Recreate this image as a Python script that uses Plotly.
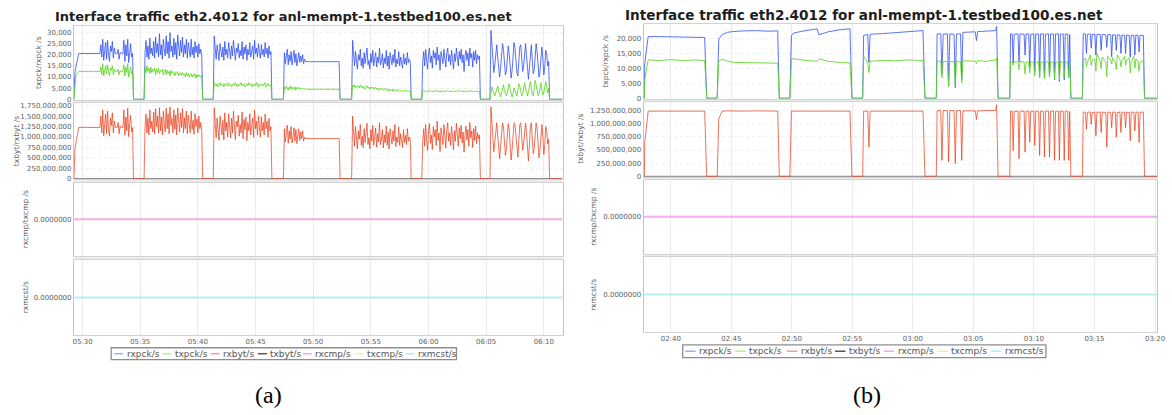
import pandas as pd
import plotly.graph_objects as go

W, H = 1172, 415
DAY = "2014-06-10 "

# ---------------- panel (a): 5-second samples starting 05:29:15 ----------------
a_start = "05:29:15"
a_step = "5s"

# received packets/s, thousands
a_rxpck_k = [
    # run 1
    0, 12.0, 14.5, 16.5, 18.5,
    20.6, 20.6, 20.6, 20.5, 20.6, 20.6, 20.6, 20.6, 20.5, 20.6, 20.6, 20.6,
    20.6, 20.6, 20.5, 20.6, 20.6, 20.6, 20.6, 20.5, 20.6, 20.6, 20.6,
    24.5, 19.0, 27.0, 17.5, 22.0, 25.5, 18.0, 26.5, 20.0, 17.0, 24.0, 21.5, 26.0, 18.5, 23.0, 20.6, 20.6,
    20.6, 22.5, 18.0, 21.0, 20.6, 20.6, 20.6, 26.5, 17.0, 24.5, 19.5, 27.0, 16.5, 22.0, 25.0, 19.0, 20.6,
    0, 0, 0, 0, 0, 0, 0, 0, 0, 0, 0, 0,
    # run 2
    21.0, 26.5, 19.0, 24.0, 18.0, 27.5, 20.5, 23.0, 19.5, 26.0,
    18.5, 28.0, 21.0, 25.0, 19.0, 29.5, 20.0, 24.5, 18.0, 27.0,
    22.5, 19.5, 28.5, 20.5, 26.0, 18.5, 30.0, 21.5, 24.0, 19.0,
    27.5, 20.0, 25.5, 18.0, 29.0, 22.0, 19.5, 26.5, 21.0, 28.0,
    19.0, 24.5, 20.5, 27.0, 18.5, 25.5, 22.0, 19.0, 27.0, 20.0,
    23.5, 18.5, 26.0, 21.0, 24.0, 19.0, 25.0, 20.5, 22.5, 19.5,
    0, 0, 0, 0, 0, 0, 0, 0, 0, 0, 0, 0,
    # run 3
    28.5, 22.0, 18.0, 24.5, 19.5, 17.5, 25.0, 21.0, 19.0, 23.5,
    17.5, 26.0, 20.0, 22.5, 18.5, 25.5, 21.5, 18.0, 24.0, 19.5,
    26.5, 20.5, 17.5, 23.0, 21.0, 25.0, 18.5, 22.0, 19.5, 26.0,
    18.0, 23.5, 20.5, 24.5, 17.5, 22.5, 20.0, 25.5, 19.0, 21.5,
    24.0, 18.0, 26.5, 20.5, 23.0, 19.0, 25.0, 21.0, 18.5, 24.5,
    20.0, 22.5, 19.0, 25.5, 20.5, 23.0, 18.5, 24.0, 20.0, 21.5,
    0, 0, 0, 0, 0, 0, 0, 0, 0, 0, 0, 0, 0,
    # run 4
    21.0, 16.0, 19.5, 22.5, 15.5, 20.0, 17.0, 21.5, 15.5, 19.0, 22.0, 16.5,
    20.5, 15.0, 18.5, 21.0, 16.5, 19.5, 17.0, 20.0, 16.0, 18.0, 17.0,
    16.9, 16.9, 16.9, 16.9, 16.9, 16.9, 16.9, 16.9, 16.9, 16.9, 16.9, 16.9,
    16.9, 16.9, 16.9, 16.9, 16.9, 16.9, 16.9, 16.9, 16.9, 16.9, 16.9, 16.9,
    16.9, 16.9, 16.9, 16.9, 16.9, 16.9, 16.9, 16.9, 16.9, 16.9, 16.9,
    0, 0, 0, 0, 0, 0, 0, 0, 0, 0, 0, 0, 0,
    # run 5
    26.5, 19.0, 15.0, 21.5, 16.5, 13.5, 20.0, 17.5, 22.5, 15.0,
    18.5, 14.0, 21.0, 16.0, 19.5, 23.0, 15.5, 17.5, 13.5, 20.5,
    16.5, 22.0, 15.0, 18.0, 21.0, 14.5, 19.0, 16.5, 23.0, 15.5,
    17.0, 20.5, 14.0, 18.5, 16.0, 22.0, 15.0, 19.5, 13.5, 21.0,
    17.0, 15.5, 20.0, 16.5, 22.5, 14.5, 18.0, 16.0, 21.5, 15.0,
    19.0, 17.0, 14.0, 20.5, 16.0, 18.5, 15.5, 21.0, 16.5, 18.0,
    17.0,
    0, 0, 0, 0, 0, 0, 0, 0, 0, 0, 0, 0,
    # run 6
    17.0, 21.5, 15.0, 22.5, 18.0, 13.5, 20.5, 23.0, 16.5, 19.5,
    14.0, 22.0, 18.5, 21.0, 15.5, 23.5, 17.5, 20.0, 13.0, 21.5,
    19.0, 16.0, 22.5, 18.0, 14.5, 21.0, 23.0, 17.0, 20.0, 15.5,
    22.0, 18.5, 13.5, 20.5, 17.0, 23.0, 19.0, 15.0, 21.5, 18.0,
    22.5, 16.5, 20.0, 12.5, 19.5, 22.0, 17.5, 21.0, 15.0, 23.0,
    18.5, 20.5, 14.5, 21.5, 17.5, 22.0, 16.0, 20.0, 18.0, 19.5,
    0, 0, 0, 0, 0, 0, 0, 0, 0, 0, 0,
    # run 7
    31.0, 24.0, 17.0, 12.0, 15.5, 22.0, 24.5, 19.0, 13.0, 10.0,
    14.0, 21.0, 25.0, 22.5, 16.0, 11.0, 12.5, 19.5, 24.0, 20.0,
    14.5, 9.5, 13.0, 20.5, 25.5, 23.0, 17.0, 12.0, 10.5, 16.0,
    23.5, 24.5, 18.0, 12.5, 15.0, 21.5, 25.0, 19.5, 13.5, 9.0,
    14.0, 22.0, 24.5, 17.5, 11.5, 13.0, 20.0, 25.0, 21.5, 15.0,
    10.0, 12.5, 19.5, 23.5, 18.0, 11.0, 14.5, 22.0, 20.5, 15.0,
    17.0,
    0, 0, 0, 0, 0, 0, 0, 0, 0, 0, 0, 0, 0, 0,
]

# transmitted packets/s, thousands
a_txpck_k = [
    # run 1
    0, 8.0, 10.5, 11.5, 12.2,
    12.5, 12.6, 12.5, 12.4, 12.5, 12.6, 12.5, 12.5, 12.4, 12.5, 12.6, 12.5,
    12.5, 12.4, 12.5, 12.6, 12.5, 12.5, 12.4, 12.5, 12.6, 12.5, 12.5,
    14.5, 11.0, 16.0, 10.5, 13.0, 15.0, 11.5, 15.5, 12.5, 10.5, 14.0, 13.0, 15.0, 11.0, 13.5, 12.5, 12.5,
    12.5, 13.5, 11.0, 12.8, 12.5, 12.5, 12.5, 15.5, 10.5, 14.5, 12.0, 16.0, 10.0, 13.0, 14.5, 11.5, 12.5,
    0, 0, 0, 0, 0, 0, 0, 0, 0, 0, 0, 0,
    # run 2
    14.5, 12.0, 15.0, 12.5, 14.0, 11.5, 14.5, 12.0, 13.5, 12.5,
    14.0, 11.0, 13.5, 12.0, 14.0, 11.5, 13.0, 12.5, 13.5, 11.0,
    12.5, 13.5, 11.0, 13.0, 11.5, 12.5, 10.5, 13.0, 11.5, 12.0,
    12.5, 10.5, 12.0, 11.5, 12.5, 10.5, 11.5, 12.0, 10.5, 12.0,
    11.0, 11.5, 10.0, 12.0, 10.5, 11.5, 10.0, 11.0, 11.5, 10.0,
    11.0, 10.5, 11.5, 9.5, 11.0, 10.0, 11.0, 10.5, 10.0, 11.0,
    0, 0, 0, 0, 0, 0, 0, 0, 0, 0, 0, 0,
    # run 3
    7.5, 6.5, 6.0, 7.0, 5.5, 6.5, 7.5, 6.0, 6.5, 7.0,
    5.5, 7.0, 6.5, 6.0, 7.5, 6.0, 6.5, 7.0, 5.5, 6.5,
    7.0, 6.0, 7.5, 6.5, 5.5, 7.0, 6.0, 6.5, 7.5, 6.0,
    6.5, 7.0, 5.5, 6.5, 7.0, 6.0, 7.5, 6.5, 6.0, 7.0,
    5.5, 6.5, 7.0, 6.0, 7.5, 6.5, 5.5, 7.0, 6.0, 6.5,
    7.0, 6.0, 6.5, 7.5, 5.5, 6.5, 7.0, 6.0, 6.5, 6.0,
    0, 0, 0, 0, 0, 0, 0, 0, 0, 0, 0, 0, 0,
    # run 4
    5.5, 4.5, 6.0, 5.0, 4.0, 5.5, 4.5, 6.0, 4.5, 5.0, 5.5, 4.0,
    5.5, 4.5, 5.0, 5.5, 4.5, 5.0, 4.5, 5.0, 4.5, 4.8, 4.5,
    4.5, 4.4, 4.5, 4.3, 4.5, 4.4, 4.6, 4.4, 4.5, 4.3, 4.4, 4.5,
    4.4, 4.3, 4.5, 4.4, 4.4, 4.5, 4.3, 4.4, 4.6, 4.4, 4.5, 4.4,
    4.3, 4.5, 4.4, 4.4, 4.5, 4.3, 4.4, 4.5, 4.4, 4.4, 4.5,
    0, 0, 0, 0, 0, 0, 0, 0, 0, 0, 0, 0, 0,
    # run 5
    6.5, 5.5, 6.5, 5.0, 6.0, 5.5, 6.0, 5.0, 6.5, 5.5,
    5.0, 6.0, 5.5, 4.5, 5.5, 6.0, 5.0, 5.5, 4.5, 5.5,
    5.0, 5.5, 4.5, 5.0, 5.5, 4.5, 5.0, 4.0, 5.0, 4.5,
    4.5, 5.0, 4.0, 4.5, 5.0, 4.0, 4.5, 4.5, 3.5, 4.5,
    4.0, 4.5, 3.5, 4.5, 4.0, 3.5, 4.5, 4.0, 3.5, 4.0,
    4.0, 3.5, 4.0, 3.5, 4.0, 3.5, 4.0, 3.5, 3.8, 3.5,
    3.5,
    0, 0, 0, 0, 0, 0, 0, 0, 0, 0, 0, 0,
    # run 6
    3.5, 4.0, 3.4, 3.8, 3.6, 3.3, 3.9, 4.0, 3.5, 3.7,
    3.3, 3.8, 3.6, 3.9, 3.4, 4.0, 3.5, 3.7, 3.2, 3.8,
    3.6, 3.4, 3.9, 3.5, 3.3, 3.7, 4.0, 3.5, 3.6, 3.4,
    3.8, 3.6, 3.3, 3.7, 3.5, 3.9, 3.6, 3.4, 3.8, 3.5,
    3.9, 3.4, 3.7, 3.2, 3.6, 3.8, 3.5, 3.7, 3.4, 3.9,
    3.6, 3.7, 3.3, 3.8, 3.5, 3.7, 3.4, 3.6, 3.5, 3.6,
    0, 0, 0, 0, 0, 0, 0, 0, 0, 0, 0,
    # run 7
    3.0, 5.5, 4.0, 2.0, 1.5, 3.0, 5.0, 6.0, 3.5, 1.5,
    1.0, 2.5, 5.5, 6.5, 4.0, 2.0, 1.5, 3.0, 6.0, 7.0,
    4.5, 2.0, 1.0, 2.5, 5.0, 4.0, 2.0, 1.5, 4.0, 7.0,
    6.0, 3.0, 1.5, 2.0, 5.5, 7.5, 5.0, 2.5, 1.5, 3.5,
    7.0, 8.0, 5.0, 2.0, 1.5, 4.5, 8.5, 6.5, 3.0, 1.5,
    2.5, 6.0, 7.5, 4.0, 2.0, 3.0, 6.5, 8.0, 5.5, 3.0,
    5.0,
    0, 0, 0, 0, 0, 0, 0, 0, 0, 0, 0, 0, 0, 0,
]

# received bytes/s, millions
a_rxbyt_m = [
    # run 1
    0, 700, 850, 1000, 1120,
    1230, 1230, 1232, 1230, 1228, 1230, 1230, 1231, 1230, 1229, 1230, 1230,
    1230, 1231, 1230, 1229, 1230, 1230, 1232, 1230, 1229, 1230, 1230,
    1500, 1100, 1650, 1030, 1300, 1550, 1080, 1620, 1200, 1020, 1450, 1280, 1580, 1100, 1380, 1230, 1230,
    1230, 1350, 1080, 1260, 1230, 1230, 1230, 1650, 1040, 1480, 1150, 1690, 1010, 1320, 1520, 1120, 1230,
    0, 0, 0, 0, 0, 0, 0, 0, 0, 0, 0, 0,
    # run 2
    1250, 1550, 1100, 1450, 1050, 1650, 1200, 1380, 1120, 1600,
    1080, 1680, 1250, 1500, 1100, 1700, 1150, 1480, 1050, 1620,
    1320, 1120, 1690, 1200, 1560, 1080, 1720, 1280, 1450, 1100,
    1650, 1180, 1530, 1050, 1700, 1300, 1120, 1580, 1230, 1680,
    1100, 1460, 1200, 1620, 1080, 1520, 1300, 1100, 1620, 1180,
    1400, 1060, 1560, 1250, 1430, 1100, 1500, 1200, 1350, 1150,
    0, 0, 0, 0, 0, 0, 0, 0, 0, 0, 0, 0,
    # run 3
    1700, 1300, 980, 1450, 1100, 920, 1500, 1250, 1050, 1400,
    930, 1580, 1150, 1350, 1000, 1550, 1250, 980, 1450, 1100,
    1620, 1200, 940, 1380, 1250, 1520, 1020, 1300, 1100, 1600,
    960, 1420, 1180, 1480, 910, 1350, 1150, 1560, 1050, 1280,
    1450, 990, 1640, 1200, 1380, 1050, 1500, 1250, 1000, 1480,
    1150, 1350, 1050, 1550, 1200, 1380, 1000, 1450, 1150, 1250,
    0, 0, 0, 0, 0, 0, 0, 0, 0, 0, 0, 0, 0,
    # run 4
    1200, 880, 1100, 1280, 850, 1150, 950, 1250, 860, 1080, 1220, 900,
    1180, 840, 1050, 1200, 920, 1120, 960, 1150, 900, 1000, 962,
    962, 962, 962, 962, 962, 962, 962, 962, 962, 962, 962, 962,
    962, 962, 962, 962, 962, 962, 962, 962, 962, 962, 962, 962,
    962, 962, 962, 962, 962, 962, 962, 962, 962, 962, 962,
    0, 0, 0, 0, 0, 0, 0, 0, 0, 0, 0, 0, 0,
    # run 5
    1500, 1050, 780, 1250, 880, 720, 1150, 950, 1300, 800,
    1020, 750, 1200, 870, 1100, 1330, 820, 980, 720, 1180,
    900, 1280, 800, 1000, 1220, 760, 1080, 880, 1340, 820,
    940, 1180, 740, 1050, 860, 1260, 800, 1120, 710, 1200,
    940, 830, 1150, 900, 1300, 770, 1000, 870, 1240, 800,
    1080, 930, 750, 1180, 870, 1040, 820, 1200, 900, 1000,
    950,
    0, 0, 0, 0, 0, 0, 0, 0, 0, 0, 0, 0,
    # run 6
    900, 1200, 780, 1300, 980, 680, 1150, 1320, 850, 1050,
    700, 1250, 1000, 1180, 800, 1380, 920, 1100, 650, 1220,
    1020, 820, 1300, 960, 740, 1180, 1340, 900, 1100, 800,
    1250, 1000, 690, 1150, 900, 1330, 1020, 780, 1220, 960,
    1280, 860, 1120, 640, 1050, 1260, 930, 1180, 780, 1350,
    980, 1150, 750, 1200, 920, 1260, 840, 1100, 960, 1050,
    0, 0, 0, 0, 0, 0, 0, 0, 0, 0, 0,
    # run 7
    1720, 1350, 950, 650, 880, 1250, 1340, 1050, 720, 480,
    780, 1200, 1340, 1250, 900, 560, 700, 1100, 1320, 1150,
    820, 450, 700, 1150, 1340, 1300, 950, 620, 520, 900,
    1300, 1340, 1000, 680, 850, 1200, 1330, 1100, 750, 430,
    780, 1250, 1340, 980, 600, 720, 1120, 1340, 1200, 850,
    500, 680, 1100, 1300, 1000, 580, 820, 1250, 1150, 830,
    950,
    0, 0, 0, 0, 0, 0, 0, 0, 0, 0, 0, 0, 0, 0,
]

# ---------------- panel (b): samples at the listed times ----------------
b_time = [
    "02:37:45", "02:37:49", "02:37:51", "02:38:08", "02:39:00", "02:40:00", "02:41:00", "02:42:00", "02:42:48", "02:42:58",
    "02:43:50", "02:43:58", "02:44:15", "02:44:40", "02:45:10", "02:46:00", "02:47:00", "02:48:00", "02:48:50", "02:48:58",
    "02:49:50", "02:49:58", "02:50:10", "02:51:00", "02:52:05", "02:52:15", "02:53:00", "02:54:00", "02:54:48", "02:54:58",
    "02:55:51", "02:55:56", "02:56:16", "02:56:22", "02:56:28", "02:57:30", "02:58:30", "02:59:30", "03:00:50", "03:01:00",
    "03:01:56", "03:02:00", "03:02:18", "03:02:24", "03:02:30", "03:02:51", "03:02:57", "03:03:03", "03:03:24", "03:03:30",
    "03:03:36", "03:03:56", "03:04:02", "03:04:08", "03:05:09", "03:05:15", "03:05:21", "03:06:00", "03:06:50", "03:06:55",
    "03:07:02",
    "03:08:00", "03:08:04",
    "03:08:12", "03:08:17", "03:08:22", "03:08:41", "03:08:46", "03:08:51", "03:09:11", "03:09:16", "03:09:21",
    "03:09:34", "03:09:39", "03:09:44", "03:09:59", "03:10:04", "03:10:09", "03:10:23", "03:10:28", "03:10:33",
    "03:10:47", "03:10:52", "03:10:57", "03:11:12", "03:11:17", "03:11:22", "03:11:37", "03:11:42", "03:11:47",
    "03:12:01", "03:12:06", "03:12:11", "03:12:25", "03:12:30", "03:12:35", "03:12:47", "03:12:52", "03:12:57",
    "03:13:03",
    "03:14:00", "03:14:04",
    "03:14:15", "03:14:20", "03:14:25", "03:14:39", "03:14:44", "03:14:49", "03:15:02", "03:15:07", "03:15:12",
    "03:15:28", "03:15:33", "03:15:38", "03:15:56", "03:16:01", "03:16:06", "03:16:20", "03:16:25", "03:16:30",
    "03:16:43", "03:16:48", "03:16:53", "03:17:06", "03:17:11", "03:17:16", "03:17:29", "03:17:34", "03:17:39",
    "03:17:52", "03:17:57", "03:18:02", "03:18:15", "03:18:20", "03:18:25", "03:18:36", "03:18:41", "03:18:46",
    "03:19:02", "03:19:08", "03:20:10",
]

b_rxpck_k = [
    0, 0, 11.5, 20.6, 20.6, 20.5, 20.5, 20.4, 20.3, 0,
    0, 19.8, 21.3, 22.0, 22.3, 22.5, 22.6, 22.4, 22.5, 0,
    0, 21.0, 21.8, 22.5, 23.2, 21.2, 22.2, 22.9, 23.2, 0,
    0, 21.0, 21.3, 12.0, 21.4, 21.6, 21.9, 22.3, 22.6, 0,
    0, 21.5, 21.5, 7.9, 21.4, 21.5, 4.0, 21.5, 21.4, 3.5,
    21.5, 21.5, 6.2, 22.0, 22.2, 19.3, 22.3, 22.4, 22.6, 24.0,
    0,
    0, 21.5,
    21.5, 11.8, 21.4, 21.5, 12.1, 21.5, 21.4, 14.4, 21.5,
    21.5, 10.5, 21.4, 21.5, 8.9, 21.5, 21.4, 7.2, 21.5,
    21.5, 6.9, 21.4, 21.5, 7.2, 21.5, 21.4, 6.2, 21.5,
    21.5, 5.6, 21.4, 21.5, 6.2, 21.5, 21.4, 6.9, 21.3,
    0,
    0, 21.5,
    21.5, 15.0, 21.4, 21.5, 16.7, 21.4, 21.3, 14.4, 21.4,
    21.3, 16.0, 21.3, 21.2, 17.0, 21.3, 21.2, 13.8, 21.2,
    21.1, 16.0, 21.2, 21.1, 15.0, 21.1, 21.0, 15.0, 21.1,
    21.0, 13.8, 21.0, 21.0, 14.4, 21.1, 21.0, 15.5, 21.0,
    21.0, 0, 0,
]

b_txpck_k = [
    0, 0, 6.0, 12.8, 12.6, 12.9, 12.6, 12.8, 12.6, 0,
    0, 12.5, 13.0, 12.4, 12.0, 11.9, 11.7, 11.8, 11.7, 0,
    0, 13.0, 13.2, 12.7, 12.3, 13.2, 12.3, 12.0, 11.8, 0,
    0, 14.0, 12.0, 8.6, 12.3, 12.7, 12.5, 12.8, 12.6, 0,
    0, 12.5, 12.3, 6.8, 12.2, 12.4, 4.0, 12.3, 12.2, 4.0,
    12.4, 12.3, 5.1, 12.5, 12.4, 11.5, 12.6, 12.3, 12.8, 13.5,
    0,
    0, 12.2,
    12.1, 11.0, 12.2, 12.0, 9.5, 12.3, 12.1, 8.0, 12.2,
    12.0, 8.5, 12.2, 12.1, 7.5, 12.0, 12.2, 6.8, 12.1,
    12.0, 6.5, 12.2, 12.1, 7.0, 12.0, 12.2, 6.5, 12.1,
    12.0, 6.2, 12.2, 12.1, 6.8, 12.0, 12.2, 7.0, 12.0,
    0,
    0, 12.5,
    13.5, 10.5, 12.0, 14.5, 11.0, 12.8, 13.0, 9.0, 15.0,
    12.5, 10.0, 13.8, 12.2, 7.2, 14.0, 12.8, 11.5, 13.5,
    12.0, 9.5, 14.5, 13.0, 10.5, 12.5, 14.0, 11.0, 12.8,
    13.5, 8.5, 12.2, 14.0, 10.0, 13.0, 12.5, 9.0, 12.0,
    12.5, 0, 0,
]

b_rxbyt_m = [
    0, 0, 640, 1240, 1240, 1245, 1240, 1240, 1240, 0,
    0, 1100, 1240, 1245, 1240, 1240, 1245, 1240, 1240, 0,
    0, 1240, 1240, 1245, 1240, 1235, 1240, 1240, 1240, 0,
    0, 1240, 1240, 554, 1240, 1240, 1245, 1240, 1240, 0,
    0, 1250, 1250, 304, 1250, 1250, 274, 1250, 1250, 243,
    1250, 1250, 304, 1245, 1245, 1082, 1245, 1250, 1255, 1362,
    0,
    0, 1240,
    1240, 490, 1240, 1235, 336, 1240, 1240, 460, 1240,
    1240, 647, 1235, 1240, 584, 1240, 1240, 397, 1240,
    1235, 367, 1240, 1240, 367, 1240, 1240, 304, 1235,
    1240, 304, 1240, 1240, 304, 1240, 1240, 304, 1235,
    0,
    0, 1220,
    1220, 896, 1220, 1220, 989, 1215, 1220, 771, 1220,
    1220, 834, 1220, 1215, 554, 1220, 1220, 927, 1220,
    1220, 741, 1215, 1220, 834, 1220, 1220, 927, 1220,
    1215, 677, 1220, 1220, 864, 1220, 1220, 647, 1220,
    1220, 0, 0,
]

assert len(a_rxpck_k) == len(a_txpck_k) == len(a_rxbyt_m) == 509
assert len(b_time) == len(b_rxpck_k) == len(b_txpck_k) == len(b_rxbyt_m)

series_names = ["rxpck/s", "txpck/s", "rxbyt/s", "txbyt/s", "rxcmp/s", "txcmp/s", "rxmcst/s"]
series_colors = {
    "rxpck/s": "rgba(45,75,245,0.78)",
    "txpck/s": "rgba(95,215,35,0.85)",
    "rxbyt/s": "rgba(232,55,20,0.7)",
    "txbyt/s": "#606060",
    "rxcmp/s": "#f0b0f2",
    "txcmp/s": "#f2f0a0",
    "rxmcst/s": "#b4f0f2",
}
key_colors = {
    "rxpck/s": "#a3acff",
    "txpck/s": "#b4ee98",
    "rxbyt/s": "#f3a092",
    "txbyt/s": "#555555",
    "rxcmp/s": "#f0a8f0",
    "txcmp/s": "#f2f0a8",
    "rxmcst/s": "#aaf0f0",
}

y_titles = ["txpck/rxpck /s", "txbyt/rxbyt /s", "rxcmp/txcmp /s", "rxmcst/s"]
title_text = "Interface traffic eth2.4012 for anl-mempt-1.testbed100.es.net"

a_time = pd.date_range(DAY + a_start, periods=len(a_rxpck_k), freq=a_step)
b_dt = pd.to_datetime([DAY + t for t in b_time])

panels = [
    dict(time=a_time, rxpck=a_rxpck_k, txpck=a_txpck_k, rxbyt=a_rxbyt_m,
         xrange=[DAY + "05:29:15", DAY + "06:11:38"]),
    dict(time=b_dt, rxpck=b_rxpck_k, txpck=b_txpck_k, rxbyt=b_rxbyt_m,
         xrange=[DAY + "02:37:45", DAY + "03:20:10"]),
]

# ---------------- layout geometry (pixels) ----------------
panel_x = [(73.5, 566.0), (647.5, 1165.0)]
panel_rows = [
    [(25, 100), (103, 180.5), (184, 258), (262, 338)],
    [(23, 99), (102, 178), (181, 256), (259, 335)],
]
y_ranges = [
    [[-250, 33100], [-12e6, 1.82e9]],
    [[-200, 24900], [-10e6, 1.418e9]],
]
y_ticks = [
    [list(range(0, 30001, 5000)), list(range(0, 1750000001, 250000000))],
    [list(range(0, 20001, 5000)), list(range(0, 1250000001, 250000000))],
]
title_pos = [(285, 16, 13), (870, 14, 13.6)]
ytitle_pos = [
    [(38, 62), (15, 142), (25, 221), (25, 300)],
    [(609, 61), (584, 140), (597, 218), (597, 297)],
]
key_box = [(111, 351, 459, 363), (687, 348, 1053, 361)]
key_x = [[114, 162.5, 211.5, 259, 304, 356, 407.5],
         [689.5, 740, 792, 840.5, 889.5, 943.5, 997.5]]
key_len = [9, 10.5]
caption_pos = [(270, 399, "(a)"), (873, 399, "(b)")]


def fx(v):
    return v / W


def fy(v):
    return 1 - v / H


tick_font = dict(family="DejaVu Sans", size=7, color="#606060")
fig = go.Figure()
shapes, annotations = [], []

for p, pdata in enumerate(panels):
    t = pdata["time"]
    zeros = [0.0] * len(t)
    for r in range(4):
        n = p * 4 + r + 1
        ax = "" if n == 1 else str(n)
        xr, yr = "x" + ax, "y" + ax
        if r == 0:
            fig.add_trace(go.Scatter(x=t, y=[v * 1000 for v in pdata["rxpck"]], xaxis=xr, yaxis=yr,
                                     mode="lines", line=dict(color=series_colors["rxpck/s"], width=1)))
            fig.add_trace(go.Scatter(x=t, y=[v * 1000 for v in pdata["txpck"]], xaxis=xr, yaxis=yr,
                                     mode="lines", line=dict(color=series_colors["txpck/s"], width=1)))
        elif r == 1:
            fig.add_trace(go.Scatter(x=t, y=zeros, xaxis=xr, yaxis=yr, mode="lines",
                                     line=dict(color=series_colors["txbyt/s"], width=1)))
            fig.add_trace(go.Scatter(x=t, y=[v * 1e6 for v in pdata["rxbyt"]], xaxis=xr, yaxis=yr,
                                     mode="lines", line=dict(color=series_colors["rxbyt/s"], width=1)))
        elif r == 2:
            fig.add_trace(go.Scatter(x=t, y=zeros, xaxis=xr, yaxis=yr, mode="lines",
                                     line=dict(color=series_colors["txcmp/s"], width=2)))
            fig.add_trace(go.Scatter(x=t, y=zeros, xaxis=xr, yaxis=yr, mode="lines",
                                     line=dict(color=series_colors["rxcmp/s"], width=2)))
        else:
            fig.add_trace(go.Scatter(x=t, y=zeros, xaxis=xr, yaxis=yr, mode="lines",
                                     line=dict(color=series_colors["rxmcst/s"], width=2)))

        top, bot = panel_rows[p][r]
        x0, x1 = panel_x[p]
        xaxis = dict(
            domain=[fx(x0), fx(x1)], anchor=yr, type="date", range=pdata["xrange"],
            dtick=300000, tick0=DAY + "00:00:00", tickformat="%H:%M",
            showticklabels=(r == 3), ticks="", tickfont=tick_font, ticklabeloverflow="allow",
            showgrid=True, gridcolor="#ebebeb", gridwidth=1,
            showline=True, mirror=True, linecolor="#d2d2d2", linewidth=1, zeroline=False,
        )
        yaxis = dict(
            domain=[fy(bot), fy(top)], anchor=xr, ticks="", tickfont=tick_font,
            showline=True, mirror=True, linecolor="#c4c4c4", linewidth=1, zeroline=False,
        )
        if r < 2:
            yaxis.update(range=y_ranges[p][r], tickmode="array", tickvals=y_ticks[p][r],
                         tickformat=",d", showgrid=True, gridcolor="#efefef", griddash="dot")
        else:
            yaxis.update(range=[-1, 1], tickmode="array", tickvals=[0], ticktext=["0.0000000"],
                         showgrid=False)
        fig.layout["xaxis" + ax] = xaxis
        fig.layout["yaxis" + ax] = yaxis

        tx, ty = ytitle_pos[p][r]
        annotations.append(dict(x=fx(tx), y=fy(ty), xref="paper", yref="paper", text=y_titles[r],
                                textangle=-90, showarrow=False, xanchor="center", yanchor="middle",
                                font=dict(family="DejaVu Sans", size=7.5, color="#606060")))

    # light bands between stacked plots
    rows = panel_rows[p]
    for r in range(3):
        shapes.append(dict(type="rect", xref="paper", yref="paper", layer="below",
                           x0=fx(panel_x[p][0]), x1=fx(panel_x[p][1]),
                           y0=fy(rows[r + 1][0]), y1=fy(rows[r][1]),
                           fillcolor="#ececec", line=dict(width=0)))

    # chart title
    cx, cy, cs = title_pos[p]
    annotations.append(dict(x=fx(cx), y=fy(cy), xref="paper", yref="paper", text="<b>" + title_text + "</b>",
                            showarrow=False, xanchor="center", yanchor="middle",
                            font=dict(family="DejaVu Sans", size=cs, color="#1e1e1e")))

    # series key under the plots
    bx0, by0, bx1, by1 = key_box[p]
    shapes.append(dict(type="rect", xref="paper", yref="paper", x0=fx(bx0), x1=fx(bx1), y0=fy(by1), y1=fy(by0),
                       line=dict(color="#8e8e8e", width=1.3), fillcolor="white"))
    ky = (by0 + by1) / 2
    for i, name in enumerate(series_names):
        sx = key_x[p][i]
        shapes.append(dict(type="line", xref="paper", yref="paper", x0=fx(sx), x1=fx(sx + key_len[p]),
                           y0=fy(ky), y1=fy(ky), line=dict(color=key_colors[name], width=1.5)))
        annotations.append(dict(x=fx(sx + key_len[p] + 1.5), y=fy(ky), xref="paper", yref="paper", text=name,
                                showarrow=False, xanchor="left", yanchor="middle",
                                font=dict(family="DejaVu Sans", size=9, color="#555555")))

    # sub-figure caption
    lx, ly, lt = caption_pos[p]
    annotations.append(dict(x=fx(lx), y=fy(ly), xref="paper", yref="paper", text=lt, showarrow=False,
                            xanchor="center", yanchor="middle",
                            font=dict(family="Liberation Serif", size=24, color="black")))

fig.update_layout(
    width=W, height=H, autosize=False,
    margin=dict(l=0, r=0, t=0, b=0),
    paper_bgcolor="white", plot_bgcolor="white",
    showlegend=False, hovermode=False,
    shapes=shapes, annotations=annotations,
)

fig.write_html("out.html", config={"displayModeBar": False})
